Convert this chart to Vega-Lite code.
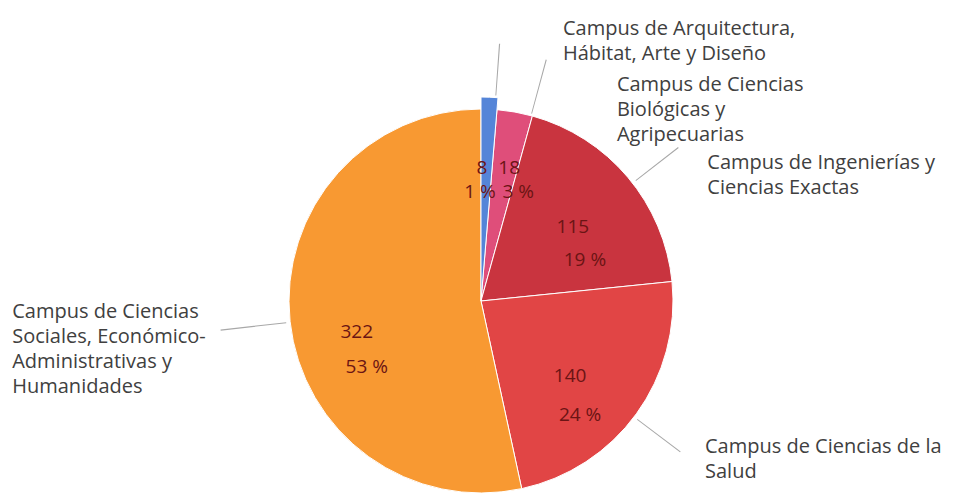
{
  "$schema": "https://vega.github.io/schema/vega-lite/v6.json",
  "width": 944,
  "height": 390,
  "autosize": "none",
  "padding": {"left": 9, "top": 106, "right": 2, "bottom": 0},
  "background": "white",
  "config": {"view": {"stroke": null}, "font": "Open Sans"},
  "data": {"values": [
    {"idx": 1, "cat": "Campus de Arquitectura,\nHábitat, Arte y Diseño", "value": 8, "pct": "1 %"},
    {"idx": 2, "cat": "Campus de Ciencias\nBiológicas y\nAgripecuarias", "value": 18, "pct": "3 %"},
    {"idx": 3, "cat": "Campus de Ingenierías y\nCiencias Exactas", "value": 115, "pct": "19 %"},
    {"idx": 4, "cat": "Campus de Ciencias de la\nSalud", "value": 140, "pct": "24 %"},
    {"idx": 5, "cat": "Campus de Ciencias\nSociales, Económico-\nAdministrativas y\nHumanidades", "value": 322, "pct": "53 %"}
  ]},
  "encoding": {
    "theta": {"field": "value", "type": "quantitative", "stack": true},
    "order": {"field": "idx", "type": "quantitative"},
    "detail": {"field": "idx", "type": "nominal"}
  },
  "layer": [
    {
      "mark": {"type": "arc", "radius": 192, "stroke": "white", "strokeWidth": 1},
      "encoding": {
        "color": {"field": "idx", "type": "nominal", "legend": null,
          "scale": {"domain": [1, 2, 3, 4, 5], "range": ["#5585d8", "#df4e7a", "#c9343f", "#e14545", "#f89932"]}}
      }
    },
    {
      "mark": {"type": "arc", "radius": 204, "stroke": "white", "strokeWidth": 1},
      "encoding": {
        "color": {"field": "idx", "type": "nominal", "legend": null},
        "opacity": {"condition": {"test": "datum.idx === 1", "value": 1}, "value": 0}
      }
    },
    {
      "transform": [
        {"stack": "value", "groupby": [], "sort": [{"field": "idx", "order": "ascending"}], "as": ["v0", "v1"]},
        {"filter": "datum.idx === 1"}
      ],
      "mark": {"type": "arc", "radius": 258, "radius2": 206, "thetaOffset": 0.069813, "theta2Offset": 0.074313, "color": "#a8a8a8"},
      "encoding": {"theta": {"field": "v0", "type": "quantitative", "stack": null}, "theta2": {"field": "v0"}}
    },
    {
      "transform": [
        {"stack": "value", "groupby": [], "sort": [{"field": "idx", "order": "ascending"}], "as": ["v0", "v1"]},
        {"filter": "datum.idx === 2"}
      ],
      "mark": {"type": "arc", "radius": 250, "radius2": 194, "thetaOffset": 0.178440, "theta2Offset": 0.182940, "color": "#a8a8a8"},
      "encoding": {"theta": {"field": "v0", "type": "quantitative", "stack": null}, "theta2": {"field": "v0"}}
    },
    {
      "transform": [
        {"stack": "value", "groupby": [], "sort": [{"field": "idx", "order": "ascending"}], "as": ["v0", "v1"]},
        {"filter": "datum.idx === 3"}
      ],
      "mark": {"type": "arc", "radius": 250, "radius2": 196, "thetaOffset": 0.636654, "theta2Offset": 0.641154, "color": "#a8a8a8"},
      "encoding": {"theta": {"field": "v0", "type": "quantitative", "stack": null}, "theta2": {"field": "v0"}}
    },
    {
      "transform": [
        {"stack": "value", "groupby": [], "sort": [{"field": "idx", "order": "ascending"}], "as": ["v0", "v1"]},
        {"filter": "datum.idx === 4"}
      ],
      "mark": {"type": "arc", "radius": 250, "radius2": 196, "thetaOffset": 0.747362, "theta2Offset": 0.751862, "color": "#a8a8a8"},
      "encoding": {"theta": {"field": "v0", "type": "quantitative", "stack": null}, "theta2": {"field": "v0"}}
    },
    {
      "transform": [
        {"stack": "value", "groupby": [], "sort": [{"field": "idx", "order": "ascending"}], "as": ["v0", "v1"]},
        {"filter": "datum.idx === 5"}
      ],
      "mark": {"type": "arc", "radius": 262, "radius2": 196, "thetaOffset": 1.670961, "theta2Offset": 1.675461, "color": "#a8a8a8"},
      "encoding": {"theta": {"field": "v0", "type": "quantitative", "stack": null}, "theta2": {"field": "v0"}}
    },
    {
      "mark": {"type": "text", "radius": 215, "align": "left", "baseline": "middle", "dx": 73, "dy": -57, "fontSize": 20, "lineHeight": 25, "lineBreak": "\n", "color": "#404040"},
      "encoding": {"text": {"condition": {"test": "datum.idx === 1", "field": "cat"}, "value": ""}}
    },
    {
      "mark": {"type": "text", "radius": 215, "align": "left", "baseline": "middle", "dx": 98, "dy": -4, "fontSize": 20, "lineHeight": 25, "lineBreak": "\n", "color": "#404040"},
      "encoding": {"text": {"condition": {"test": "datum.idx === 2", "field": "cat"}, "value": ""}}
    },
    {
      "mark": {"type": "text", "radius": 215, "align": "left", "baseline": "middle", "dx": 62, "dy": 1, "fontSize": 20, "lineHeight": 25, "lineBreak": "\n", "color": "#404040"},
      "encoding": {"text": {"condition": {"test": "datum.idx === 3", "field": "cat"}, "value": ""}}
    },
    {
      "mark": {"type": "text", "radius": 215, "align": "left", "baseline": "middle", "dx": 50, "dy": 20, "fontSize": 20, "lineHeight": 25, "lineBreak": "\n", "color": "#404040"},
      "encoding": {"text": {"condition": {"test": "datum.idx === 4", "field": "cat"}, "value": ""}}
    },
    {
      "mark": {"type": "text", "radius": 215, "align": "left", "baseline": "middle", "dx": -255, "dy": -12, "fontSize": 20, "lineHeight": 25, "lineBreak": "\n", "color": "#404040"},
      "encoding": {"text": {"condition": {"test": "datum.idx === 5", "field": "cat"}, "value": ""}}
    },
    {
      "mark": {"type": "text", "radius": 120, "align": "center", "baseline": "middle", "dx": -4, "dy": -13, "fontSize": 19, "color": "#6b1414"},
      "encoding": {"text": {"condition": {"test": "datum.idx === 1", "field": "value", "type": "quantitative"}, "value": ""}}
    },
    {
      "mark": {"type": "text", "radius": 120, "align": "center", "baseline": "middle", "dx": -6, "dy": 11, "fontSize": 19, "color": "#6b1414"},
      "encoding": {"text": {"condition": {"test": "datum.idx === 1", "field": "pct"}, "value": ""}}
    },
    {
      "mark": {"type": "text", "radius": 120, "align": "center", "baseline": "middle", "dx": 7, "dy": -15, "fontSize": 19, "color": "#6b1414"},
      "encoding": {"text": {"condition": {"test": "datum.idx === 2", "field": "value", "type": "quantitative"}, "value": ""}}
    },
    {
      "mark": {"type": "text", "radius": 120, "align": "center", "baseline": "middle", "dx": 16, "dy": 9, "fontSize": 19, "color": "#6b1414"},
      "encoding": {"text": {"condition": {"test": "datum.idx === 2", "field": "pct"}, "value": ""}}
    },
    {
      "mark": {"type": "text", "radius": 115, "align": "center", "baseline": "middle", "dx": 4, "dy": 0, "fontSize": 19, "color": "#6b1414"},
      "encoding": {"text": {"condition": {"test": "datum.idx === 3", "field": "value", "type": "quantitative"}, "value": ""}}
    },
    {
      "mark": {"type": "text", "radius": 115, "align": "center", "baseline": "middle", "dx": 16, "dy": 33, "fontSize": 19, "color": "#6b1414"},
      "encoding": {"text": {"condition": {"test": "datum.idx === 3", "field": "pct"}, "value": ""}}
    },
    {
      "mark": {"type": "text", "radius": 120, "align": "center", "baseline": "middle", "dx": -8, "dy": 5, "fontSize": 19, "color": "#6b1414"},
      "encoding": {"text": {"condition": {"test": "datum.idx === 4", "field": "value", "type": "quantitative"}, "value": ""}}
    },
    {
      "mark": {"type": "text", "radius": 120, "align": "center", "baseline": "middle", "dx": 2, "dy": 44, "fontSize": 19, "color": "#6b1414"},
      "encoding": {"text": {"condition": {"test": "datum.idx === 4", "field": "pct"}, "value": ""}}
    },
    {
      "mark": {"type": "text", "radius": 130, "align": "center", "baseline": "middle", "dx": 5, "dy": 17, "fontSize": 19, "color": "#6b1414"},
      "encoding": {"text": {"condition": {"test": "datum.idx === 5", "field": "value", "type": "quantitative"}, "value": ""}}
    },
    {
      "mark": {"type": "text", "radius": 130, "align": "center", "baseline": "middle", "dx": 15, "dy": 52, "fontSize": 19, "color": "#6b1414"},
      "encoding": {"text": {"condition": {"test": "datum.idx === 5", "field": "pct"}, "value": ""}}
    }
  ]
}
